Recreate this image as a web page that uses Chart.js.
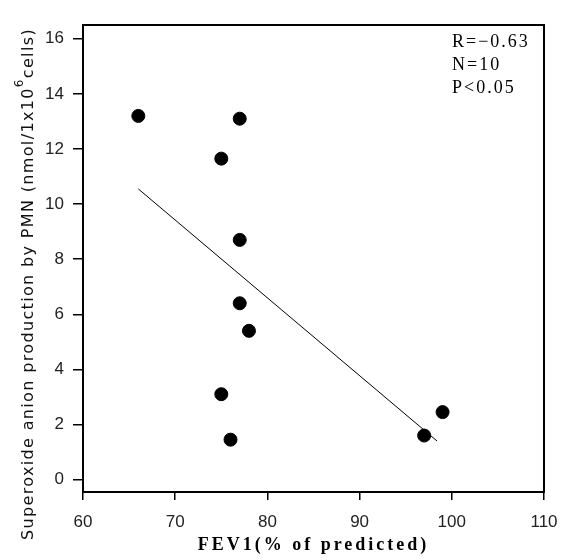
<!DOCTYPE html>
<html>
<head>
<meta charset="utf-8">
<script src="https://cdn.jsdelivr.net/npm/chart.js@4.4.0/dist/chart.umd.min.js"></script>
<style>
  html, body { margin: 0; padding: 0; background: #fff; }
  #wrap { width: 575px; height: 560px; position: relative; }
</style>
</head>
<body>
<div id="wrap"><canvas id="chart"></canvas></div>
<script>
// ===== DATA =====
const fev1 = [66, 77, 75, 77, 77, 78, 75, 76, 97, 99];
const superoxide = [13.2, 13.1, 11.65, 8.7, 6.4, 5.4, 3.1, 1.45, 1.6, 2.45];
const fitX = [66, 98.4];
const fitY = [10.55, 1.4];
const xTicks = [60, 70, 80, 90, 100, 110];
const yTicks = [0, 2, 4, 6, 8, 10, 12, 14, 16];
const statsText = ['R=\u22120.63', 'N=10', 'P<0.05'];

const points = fev1.map((x, i) => ({ x, y: superoxide[i] }));
const fitLine = fitX.map((x, i) => ({ x, y: fitY[i] }));

// frame, axis titles and stats box
const decorPlugin = {
    id: 'decor',
    afterDraw(chart) {
        const { ctx, chartArea: a } = chart;
        ctx.save();
        ctx.strokeStyle = '#000';
        ctx.lineWidth = 2;
        ctx.strokeRect(a.left, a.top, a.right - a.left, a.bottom - a.top);

        // stats text
        ctx.fillStyle = '#000';
        ctx.font = '18px "Liberation Serif"';
        ctx.letterSpacing = '2px';
        ctx.textAlign = 'left';
        ctx.textBaseline = 'middle';
        statsText.forEach((t, i) => ctx.fillText(t, 452, 42 + i * 23));

        // x title
        ctx.font = 'bold 18px "Liberation Serif"';
        ctx.letterSpacing = '3px';
        ctx.textAlign = 'center';
        ctx.fillText('FEV1(% of predicted)', (a.left + a.right) / 2, 545);

        // y title, rotated, with superscript 6
        ctx.fillStyle = '#111';
        ctx.translate(28, 540);
        ctx.rotate(-Math.PI / 2);
        ctx.textAlign = 'left';
        ctx.textBaseline = 'alphabetic';
        ctx.font = '16px "DejaVu Sans"';
        ctx.letterSpacing = '1.35px';
        const part1 = 'Superoxide anion production by PMN (nmol/1x10';
        ctx.fillText(part1, 0, 5);
        let w = ctx.measureText(part1).width;
        ctx.font = '12px "DejaVu Sans"';
        ctx.fillText('6', w, -5);
        w += ctx.measureText('6').width;
        ctx.font = '16px "DejaVu Sans"';
        ctx.fillText('cells)', w, 5);
        ctx.restore();
    }
};

new Chart(document.getElementById('chart'), {
    type: 'scatter',
    data: {
        datasets: [
            {
                data: points,
                backgroundColor: '#000',
                borderColor: '#000',
                pointRadius: 6.5,
                pointHoverRadius: 6.5
            },
            {
                type: 'line',
                data: fitLine,
                borderColor: '#000',
                borderWidth: 1,
                pointRadius: 0,
                fill: false
            }
        ]
    },
    options: {
        responsive: true,
        maintainAspectRatio: false,
        animation: false,
        layout: { padding: { left: 0, top: 25, right: 31, bottom: 0 } },
        plugins: { legend: { display: false }, tooltip: { enabled: false } },
        scales: {
            x: {
                type: 'linear',
                min: 60,
                max: 110,
                afterBuildTicks: s => { s.ticks = xTicks.map(v => ({ value: v })); },
                afterFit: s => { s.height = 68; },
                grid: { drawOnChartArea: false, tickLength: 8, color: '#000', lineWidth: 1.5 },
                border: { display: true, color: '#000', width: 2 },
                ticks: { color: '#222', padding: 12, font: { family: 'Liberation Sans', size: 17 } }
            },
            y: {
                type: 'linear',
                min: -0.45,
                max: 16.5,
                afterBuildTicks: s => { s.ticks = yTicks.map(v => ({ value: v })); },
                afterFit: s => { s.width = 83; },
                grid: { drawOnChartArea: false, tickLength: 10, color: '#000', lineWidth: 1.5 },
                border: { display: true, color: '#000', width: 2 },
                ticks: { color: '#222', padding: 9, font: { family: 'Liberation Sans', size: 17 } }
            }
        }
    },
    plugins: [decorPlugin]
});
</script>
</body>
</html>
